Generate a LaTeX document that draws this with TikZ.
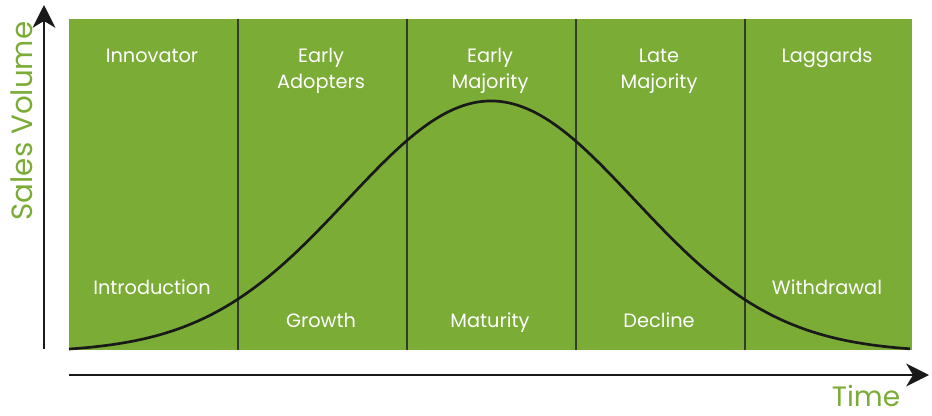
\documentclass[tikz,border=0pt]{standalone}
\usepackage{fontspec}
\setmainfont{Poppins}
\usetikzlibrary{arrows.meta}
\definecolor{plcgreen}{RGB}{122,172,54}
\definecolor{divline}{RGB}{50,60,40}
\begin{document}
\begin{tikzpicture}[x=0.75pt,y=-0.75pt,
  lbl/.style={text=white,font=\fontsize{14.5}{19.5}\selectfont,align=center,anchor=base,inner sep=0pt},
  divider/.style={draw=divline,line width=1.1pt},
  axis/.style={draw=black!90,line width=2pt,-{Stealth[length=17pt,width=17pt,inset=5pt]}}]
\useasboundingbox (0,0) rectangle (932,415);
\fill[plcgreen] (69,19) rectangle (912,350);
\foreach \xx in {238,407,576,745}{\draw[divider] (\xx,19) -- (\xx,350);}
\draw[black!90,line width=2pt] plot[domain=69:910,samples=150,smooth]
  (\x,{349-251.36*(exp(-(((\x-491)/100)^2)/4.126)-0.01336)});
\coordinate (yo) at (44,349);
\coordinate (yt) at (44,5);
\coordinate (xo) at (69,375);
\coordinate (xt) at (929,375);
\draw[axis] (yo) -- (yt);
\draw[axis] (xo) -- (xt);
\node[lbl] (inn) at (152,62) {Innovator};
\node[lbl] (ea) at (321,88) {Early\\Adopters};
\node[lbl] (em) at (490,88) {Early\\Majority};
\node[lbl] (lm) at (659,88) {Late\\Majority};
\node[lbl] (lag) at (827,62) {Laggards};
\node[lbl] (intro) at (152,294) {Introduction};
\node[lbl] (gro) at (321,327) {Growth};
\node[lbl] (mat) at (490,327) {Maturity};
\node[lbl] (dec) at (659,327) {Decline};
\node[lbl] (wd) at (827,294) {Withdrawal};
\node[text=plcgreen,font=\fontsize{22}{26}\selectfont,rotate=90] (sv) at (22,121) {Sales Volume};
\node[text=plcgreen,font=\fontsize{21}{24}\selectfont] (tm) at (866,396) {Time};
\end{tikzpicture}
\end{document}
